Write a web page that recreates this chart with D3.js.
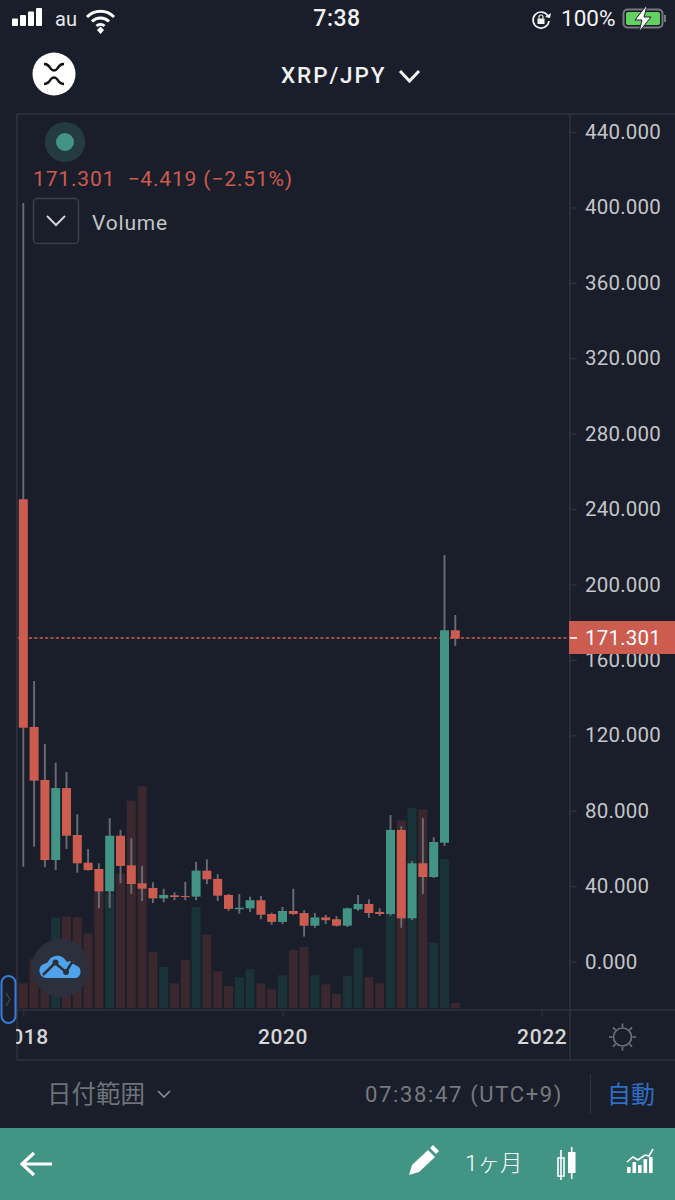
<!DOCTYPE html>
<html>
<head>
<meta charset="utf-8">
<script src="https://cdn.jsdelivr.net/npm/d3@7"></script>
<style>
  html, body { margin: 0; padding: 0; background: #1a1e2a; }
  svg { display: block; }
  text { font-family: Roboto, "Noto Sans CJK JP", sans-serif; }
</style>
</head>
<body>
<div id="chart"></div>
<script>
// monthly candles, Jan 2018 - May 2021
var months = ["2018-01","2018-02","2018-03","2018-04","2018-05","2018-06","2018-07","2018-08","2018-09","2018-10","2018-11","2018-12",
  "2019-01","2019-02","2019-03","2019-04","2019-05","2019-06","2019-07","2019-08","2019-09","2019-10","2019-11","2019-12",
  "2020-01","2020-02","2020-03","2020-04","2020-05","2020-06","2020-07","2020-08","2020-09","2020-10","2020-11","2020-12",
  "2021-01","2021-02","2021-03","2021-04","2021-05"];
var opens = [245.2,124.4,96.3,53.8,92.0,67.1,52.4,49.1,37.2,66.7,51.0,41.5,39.0,33.5,35.1,34.7,34.4,48.2,43.8,35.3,27.7,28.2,32.5,25.2,
  21.0,26.8,25.7,19.0,23.4,22.4,19.0,27.7,30.5,26.3,25.2,69.8,22.9,52.1,44.8,63.0,175.7];
var highs = [402.4,148.8,115.4,105.5,100.5,78.1,59.7,52.1,76.0,69.8,65.4,50.7,42.0,38.6,36.7,42.3,52.8,54.2,46.3,35.8,35.8,34.4,34.7,25.9,
  28.9,38.6,27.2,25.7,24.7,24.0,28.5,35.3,33.0,28.2,77.7,71.7,53.3,76.0,65.9,215.6,183.8];
var lows = [50.3,60.9,50.0,48.5,59.7,47.1,48.2,28.2,28.5,41.5,35.8,32.1,31.0,31.4,32.5,32.5,32.5,41.0,32.1,26.8,25.4,26.3,22.4,19.5,
  19.9,24.7,13.2,17.9,19.9,18.5,18.3,26.9,23.2,24.1,24.3,17.9,21.9,35.8,44.3,61.3,167.4];
var closes = [124.0,95.9,53.8,92.0,66.7,52.1,48.5,37.2,66.7,50.7,41.1,38.6,33.5,35.3,34.2,34.2,48.2,43.6,34.9,27.9,28.5,32.5,24.8,21.0,
  26.8,25.2,19.0,23.4,21.9,19.0,28.2,30.5,25.7,25.2,69.8,22.9,52.1,44.8,63.4,175.7,171.301];
var volumes = [10.4,20.5,22,37.8,38.2,37.9,31.1,54,48,56.2,86.5,92.6,23.5,17.2,10.4,20.1,42.2,30.7,15.4,9.3,13,16.4,10.4,7.9,
  13.8,24.3,25.5,13.8,10,6,13.5,25.1,13,10.4,43,78.3,83.5,82.9,27.3,62.2,2.2];
var priceTicks = [440,400,360,320,280,240,200,160,120,80,40,0];
var yearTicks = ["2018-01","2020-01","2022-01"];

var width = 675, height = 1200;
var red = "#cc5b50", green = "#429485", bg = "#1a1e2a", grid = "#2e323e", wick = "#6a6c72";

var svg = d3.select("#chart").append("svg")
    .attr("width", width)
    .attr("height", height)
    .attr("viewBox", "0 0 675 1200");

svg.append("rect").attr("width", width).attr("height", height).attr("fill", bg);

// scales
var monthIndex = s => (+s.slice(0, 4) - 2018) * 12 + (+s.slice(5) - 1);
var x = d3.scaleLinear().domain([0, 48]).range([23.3, 541.7]);
var y = d3.scaleLinear().domain([0, 440]).range([961.5, 132]);
var yVol = d3.scaleLinear().domain([0, 100]).range([1008.3, 768.3]);

svg.append("defs").append("clipPath").attr("id", "plot").append("rect")
    .attr("x", 18).attr("y", 115).attr("width", 552).attr("height", 895);

var plot = svg.append("g").attr("clip-path", "url(#plot)");
var candles = months.map((m, i) => ({ i: monthIndex(m), o: opens[i], h: highs[i], l: lows[i], c: closes[i], v: volumes[i] }));
var last = closes[closes.length - 1];
var lastY = y(last) - 0.6;

// volume bars sit behind the candles
plot.selectAll("rect.vol").data(candles).enter().append("rect")
    .attr("class", "vol")
    .attr("x", d => x(d.i) - 4.5)
    .attr("width", 9)
    .attr("y", d => yVol(d.v))
    .attr("height", d => yVol(0) - yVol(d.v))
    .attr("fill", d => d.c >= d.o ? "#1a3338" : "#3a282e");

// last price line
plot.append("line")
    .attr("x1", 18).attr("x2", 570)
    .attr("y1", lastY).attr("y2", lastY)
    .attr("stroke", red).attr("stroke-width", 1.6).attr("stroke-dasharray", "3.2,2.2");

plot.selectAll("line.wick").data(candles).enter().append("line")
    .attr("class", "wick")
    .attr("x1", d => x(d.i)).attr("x2", d => x(d.i))
    .attr("y1", d => y(d.h)).attr("y2", d => y(d.l))
    .attr("stroke", wick).attr("stroke-width", 1.9);

plot.selectAll("rect.body").data(candles).enter().append("rect")
    .attr("class", "body")
    .attr("x", d => x(d.i) - 4.5)
    .attr("width", 9)
    .attr("y", d => y(Math.max(d.o, d.c)))
    .attr("height", d => Math.max(1, Math.abs(y(d.o) - y(d.c))))
    .attr("fill", d => d.c >= d.o ? green : red);

// frame
var frame = [[17, 114, 675, 114], [17, 114, 17, 1060], [570, 114, 570, 1060], [17, 1010, 675, 1010], [17, 1060, 675, 1060]];
svg.selectAll("line.frame").data(frame).enter().append("line")
    .attr("class", "frame")
    .attr("x1", d => d[0]).attr("y1", d => d[1]).attr("x2", d => d[2]).attr("y2", d => d[3])
    .attr("stroke", grid).attr("stroke-width", 1.6);

// price axis
var priceAxis = svg.append("g")
    .attr("transform", "translate(570,0)")
    .call(d3.axisRight(y).tickValues(priceTicks).tickFormat(d3.format(".3f")).tickSize(7).tickPadding(8));
priceAxis.select(".domain").remove();
priceAxis.selectAll("line").attr("stroke", grid).attr("stroke-width", 1.3);
priceAxis.selectAll("text").attr("fill", "#c4c5c8").attr("font-size", 20.5).attr("font-family", "Roboto").attr("letter-spacing", 0.2);

// last price label
svg.append("rect").attr("x", 569).attr("y", 621).attr("width", 106).attr("height", 33).attr("fill", red);
svg.append("line").attr("x1", 570).attr("x2", 577).attr("y1", lastY).attr("y2", lastY).attr("stroke", "#fff").attr("stroke-width", 1.6);
svg.append("text").attr("x", 585).attr("y", lastY + 7.5).attr("fill", "#fff").attr("font-size", 20.5).attr("letter-spacing", 0.2)
    .text(d3.format(".3f")(last));

// time axis
var timeAxis = svg.append("g")
    .attr("transform", "translate(0,1010)")
    .call(d3.axisBottom(x).tickValues(yearTicks.map(monthIndex))
      .tickFormat(i => yearTicks.find(s => monthIndex(s) === i).slice(0, 4)).tickSize(6).tickPadding(13));
timeAxis.select(".domain").remove();
timeAxis.selectAll("line").attr("stroke", grid).attr("stroke-width", 1.3);
timeAxis.selectAll("text").attr("fill", "#d6d6d6").attr("font-size", 21).attr("font-weight", 500).attr("font-family", "Roboto").attr("letter-spacing", 0.6);
// the 2018 label runs off the left of the pane
svg.append("rect").attr("x", 0).attr("y", 1024).attr("width", 16.2).attr("height", 35).attr("fill", bg);

// legend
svg.append("circle").attr("cx", 65).attr("cy", 142).attr("r", 20).attr("fill", green).attr("opacity", 0.25);
svg.append("circle").attr("cx", 65).attr("cy", 142).attr("r", 9).attr("fill", green);
svg.append("text").attr("x", 33).attr("y", 186).attr("fill", red).attr("font-size", 21).attr("letter-spacing", 0.85).attr("xml:space", "preserve").text("171.301  \u22124.419 (\u22122.51%)");
svg.append("rect").attr("x", 33.5).attr("y", 198.5).attr("width", 45).attr("height", 45).attr("rx", 4).attr("fill", "none").attr("stroke", "#3a3e49").attr("stroke-width", 1.5);
svg.append("path").attr("d", "M47 216l9 9 9-9").attr("fill", "none").attr("stroke", "#d0d0d4").attr("stroke-width", 2);
svg.append("text").attr("x", 92).attr("y", 230).attr("fill", "#c4c5c8").attr("font-size", 21).attr("letter-spacing", 0.8).text("Volume");

// status bar
[7.5, 11, 14.5, 18].forEach(function (h, i) {
  svg.append("rect").attr("x", 12 + i * 8).attr("y", 26 - h).attr("width", 6).attr("height", h).attr("rx", 1).attr("fill", "#fff");
});
svg.append("text").attr("x", 55).attr("y", 26).attr("fill", "#e8e8e8").attr("font-size", 20).text("au");
svg.append("path").attr("d", "M87 17a19 19 0 0 1 27 0M92 21.5a12 12 0 0 1 17 0M96.5 26a6 6 0 0 1 8 0")
    .attr("fill", "none").attr("stroke", "#fff").attr("stroke-width", 3);
svg.append("path").attr("d", "M97 30l3.5-3.5 3.5 3.5-3.5 4z").attr("fill", "#fff");
svg.append("text").attr("x", 337).attr("y", 26).attr("text-anchor", "middle").attr("fill", "#f2f2f2").attr("font-size", 23).attr("font-weight", 500).attr("letter-spacing", 0.5).text("7:38");
svg.append("path").attr("d", "M548 16a8 8 0 1 0 1 5").attr("fill", "none").attr("stroke", "#f2f2f2").attr("stroke-width", 1.7);
svg.append("path").attr("d", "M545 17l5 1 1-5z").attr("fill", "#f2f2f2");
svg.append("rect").attr("x", 537.5).attr("y", 18.5).attr("width", 7).attr("height", 5.5).attr("fill", "#f2f2f2");
svg.append("path").attr("d", "M539 18.5v-1.5a2 2 0 0 1 4 0v1.5").attr("fill", "none").attr("stroke", "#f2f2f2").attr("stroke-width", 1.2);
svg.append("text").attr("x", 561).attr("y", 26).attr("fill", "#f2f2f2").attr("font-size", 22.5).text("100%");
svg.append("rect").attr("x", 623.5).attr("y", 9.5).attr("width", 39).attr("height", 18).attr("rx", 4).attr("fill", "none").attr("stroke", "#77797f").attr("stroke-width", 2);
svg.append("rect").attr("x", 626).attr("y", 12).attr("width", 34).attr("height", 13).attr("rx", 2).attr("fill", "#62d15f");
svg.append("rect").attr("x", 664).attr("y", 15).attr("width", 2).attr("height", 7).attr("fill", "#77797f");
svg.append("path").attr("d", "M646 6l-11 14h7l-3 12 12-15h-7l3-11z").attr("fill", "#fff").attr("stroke", bg).attr("stroke-width", 1);

// header
svg.append("circle").attr("cx", 54).attr("cy", 74).attr("r", 21.5).attr("fill", "#fff");
svg.append("path").attr("d", "M44 64c4 0 5 2 7 5 2 2 4 2 6 0 2-3 3-5 7-5M44 84c4 0 5-2 7-5 2-2 4-2 6 0 2 3 3 5 7 5")
    .attr("fill", "none").attr("stroke", "#111").attr("stroke-width", 2.4);
svg.append("text").attr("x", 281).attr("y", 83).attr("fill", "#f2f2f2").attr("font-size", 22.5).attr("font-weight", 500).attr("letter-spacing", 1.9).text("XRP/JPY");
svg.append("path").attr("d", "M400 71l9.5 10 9.5-10").attr("fill", "none").attr("stroke", "#f2f2f2").attr("stroke-width", 3);

// floating logo + collapse handle
svg.append("circle").attr("cx", 60.5).attr("cy", 968).attr("r", 29).attr("fill", "#2c303c");
svg.append("path").attr("d", "M47 978c-9 0-10-12-3-14 2-1 3-1 4-2 2-5 7-7 12-6 3 1 5 3 7 6 4-2 9-1 10 4 5 1 5 12-2 12z").attr("fill", "#4fa3ea");
svg.append("path").attr("d", "M43 975l12-12 11 9 6-10 9 4").attr("fill", "none").attr("stroke", "#2c303c").attr("stroke-width", 2.5);
svg.append("circle").attr("cx", 55.5).attr("cy", 962.5).attr("r", 3).attr("fill", "#2c303c");
svg.append("circle").attr("cx", 66).attr("cy", 972).attr("r", 3).attr("fill", "#2c303c");
svg.append("rect").attr("x", 1.5).attr("y", 976).attr("width", 14).attr("height", 47).attr("rx", 7).attr("fill", bg).attr("stroke", "#3a7bd5").attr("stroke-width", 2);
svg.append("path").attr("d", "M6 993l4 6.5-4 6.5").attr("fill", "none").attr("stroke", "#3a3e49").attr("stroke-width", 1.5);

// sun icon
var sunG = svg.append("g").attr("transform", "translate(622.5,1037)");
sunG.append("circle").attr("r", 9).attr("fill", "none").attr("stroke", "#6d7078").attr("stroke-width", 1.7);
d3.range(8).forEach(function (i) {
  sunG.append("line").attr("y1", -10).attr("y2", -13.5).attr("transform", "rotate(" + (i * 45) + ")").attr("stroke", "#6d7078").attr("stroke-width", 1.7);
});

// date range row
svg.append("text").attr("x", 47).attr("y", 1103).attr("fill", "#6f7278").attr("font-size", 24.5).attr("font-family", "Noto Sans CJK JP").text("日付範囲");
svg.append("path").attr("d", "M158 1091l6 6 6-6").attr("fill", "none").attr("stroke", "#8a8c92").attr("stroke-width", 1.6);
svg.append("text").attr("x", 365).attr("y", 1102).attr("fill", "#77797f").attr("font-size", 22).attr("letter-spacing", 1.65).text("07:38:47 (UTC+9)");
svg.append("line").attr("x1", 590.5).attr("x2", 590.5).attr("y1", 1074).attr("y2", 1114).attr("stroke", grid).attr("stroke-width", 1.3);
svg.append("text").attr("x", 607).attr("y", 1103).attr("fill", "#2d6fc4").attr("font-size", 24).attr("font-family", "Noto Sans CJK JP").text("自動");

// bottom toolbar
svg.append("rect").attr("x", 0).attr("y", 1128).attr("width", 675).attr("height", 72).attr("fill", green);
svg.append("path").attr("d", "M52 1164H23M34 1153l-12 11 12 11").attr("fill", "none").attr("stroke", "#fff").attr("stroke-width", 3.2);
svg.append("path").attr("d", "M409 1175l3-10 16-15 7 7-16 15zM430 1148l3-3 6 6-3 3z").attr("fill", "#fff");
svg.append("text").attr("x", 465).attr("y", 1171).attr("fill", "#fff").attr("font-size", 22.5).attr("font-family", "Noto Sans CJK JP").attr("font-weight", 300).text("1ヶ月");
svg.append("rect").attr("x", 558).attr("y", 1158).attr("width", 6).attr("height", 18).attr("fill", "none").attr("stroke", "#fff").attr("stroke-width", 1.6);
svg.append("line").attr("x1", 561).attr("x2", 561).attr("y1", 1150).attr("y2", 1180).attr("stroke", "#fff").attr("stroke-width", 1.6);
svg.append("rect").attr("x", 568).attr("y", 1152).attr("width", 7.5).attr("height", 21).attr("fill", "#fff");
svg.append("line").attr("x1", 571.7).attr("x2", 571.7).attr("y1", 1147).attr("y2", 1179).attr("stroke", "#fff").attr("stroke-width", 1.6);
[[627, 6], [632.5, 11], [638, 8], [643.5, 14], [649, 16]].forEach(function (b) {
  svg.append("rect").attr("x", b[0]).attr("y", 1173 - b[1]).attr("width", 3.6).attr("height", b[1]).attr("fill", "#fff");
});
svg.append("path").attr("d", "M627 1162l6-5 5 3 7-5 4 1 4-7").attr("fill", "none").attr("stroke", "#fff").attr("stroke-width", 1.6);
</script>
</body>
</html>
